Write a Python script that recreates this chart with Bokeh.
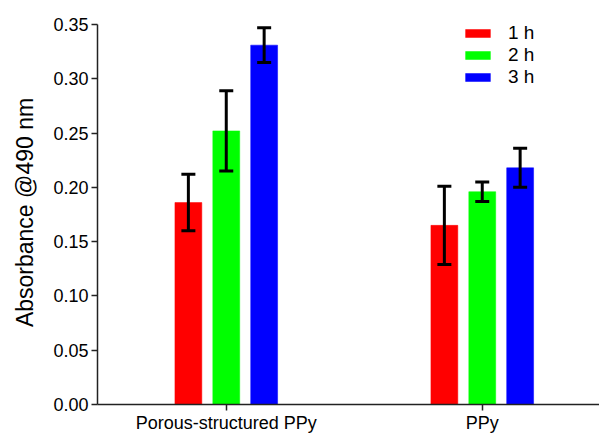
import numpy as np
from bokeh.plotting import figure
from bokeh.models import (ColumnDataSource, Range1d, FixedTicker, Whisker, TeeHead,
                          Legend, LegendItem, NumeralTickFormatter)
from bokeh.transform import dodge
from bokeh.embed import file_html
from bokeh.resources import INLINE

# ---- data ----
categories = ["Porous-structured PPy", "PPy"]
series = ["1 h", "2 h", "3 h"]
colors = ["#ff0000", "#00ff00", "#0000ff"]
means_1h = [0.186, 0.165]
means_2h = [0.252, 0.196]
means_3h = [0.331, 0.218]
err_1h = [0.026, 0.036]
err_2h = [0.037, 0.009]
err_3h = [0.016, 0.018]
y_ticks = [0.00, 0.05, 0.10, 0.15, 0.20, 0.25, 0.30, 0.35]

FONT = "Liberation Sans"

p = figure(width=599, height=435, output_backend="svg", toolbar_location=None,
           x_range=Range1d(-0.003, 1.958), y_range=Range1d(0, 0.3537),
           min_border_left=97, min_border_right=0, min_border_top=20,
           min_border_bottom=30)
p.outline_line_color = None
p.xgrid.visible = False
p.ygrid.visible = False

xpos = np.arange(len(categories)) + 0.5
offsets = [-0.148, 0.0, 0.148]
bar_w = 0.105

items = []
for name, col, m, e, off in zip(series, colors, [means_1h, means_2h, means_3h],
                                [err_1h, err_2h, err_3h], offsets):
    m = np.array(m)
    e = np.array(e)
    src = ColumnDataSource(dict(x=xpos, top=m, upper=m + e, lower=m - e))
    r = p.vbar(x=dodge("x", off), top="top", width=bar_w, source=src,
               fill_color=col, line_color=col, line_width=0.5)
    items.append(LegendItem(label=name, renderers=[r]))
    w = Whisker(base=dodge("x", off), upper="upper", lower="lower", source=src,
                level="overlay", line_color="black", line_width=3,
                upper_head=TeeHead(size=14, line_width=3, line_color="black"),
                lower_head=TeeHead(size=14, line_width=3, line_color="black"))
    p.add_layout(w)

legend = Legend(items=items, location=(365, 316), border_line_alpha=0,
                background_fill_alpha=0, padding=0, margin=0, spacing=0,
                glyph_width=31, glyph_height=10, label_standoff=15,
                label_height=22,
                label_text_font=FONT, label_text_font_size="19px",
                label_text_color="black")
p.add_layout(legend)

# x axis
xa = p.xaxis[0]
xa.ticker = FixedTicker(ticks=list(xpos))
xa.major_label_overrides = {float(v): c for v, c in zip(xpos, categories)}
xa.minor_tick_line_color = None
xa.major_tick_in = 0
xa.major_tick_out = 6
xa.major_label_standoff = 2
xa.axis_line_width = 1.5
xa.axis_line_color = "#222222"
xa.major_tick_line_color = "#222222"
xa.major_tick_line_width = 1.5
xa.major_label_text_font = FONT
xa.major_label_text_font_size = "18px"
xa.major_label_text_color = "black"

# y axis
ya = p.yaxis[0]
ya.ticker = FixedTicker(ticks=y_ticks)
ya.bounds = (0, 0.35)
ya.formatter = NumeralTickFormatter(format="0.00")
ya.minor_tick_line_color = None
ya.major_tick_in = 0
ya.major_tick_out = 6
ya.major_label_standoff = 3
ya.axis_line_width = 1.5
ya.axis_line_color = "#222222"
ya.major_tick_line_color = "#222222"
ya.major_tick_line_width = 1.5
ya.major_label_text_font = FONT
ya.major_label_text_font_size = "18px"
ya.major_label_text_color = "black"
ya.axis_label = "Absorbance @490 nm"
ya.axis_label_text_font = FONT
ya.axis_label_text_font_size = "23px"
ya.axis_label_text_font_style = "normal"
ya.axis_label_text_color = "black"
ya.axis_label_standoff = 12

open("out.html", "w").write(file_html(p, INLINE))
